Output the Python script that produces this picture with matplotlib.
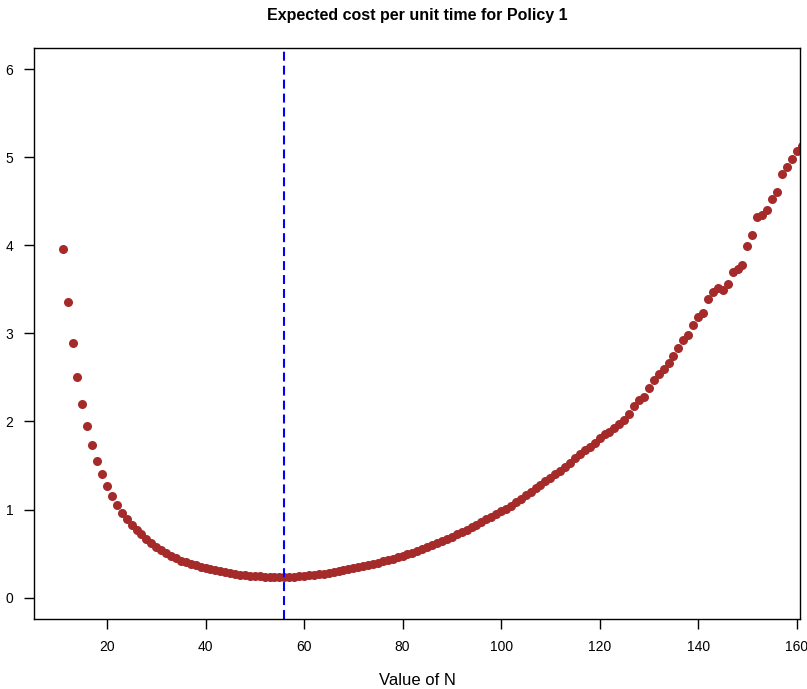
import numpy as np
import matplotlib
matplotlib.use("Agg")
import matplotlib.pyplot as plt

plt.rcParams['font.family'] = ['Liberation Sans', 'DejaVu Sans']

# valeurs de N (11 .. 161) et coût estimé
n_values = np.arange(11, 162)
cost = [
    3.955, 3.36, 2.886, 2.51, 2.20, 1.947, 1.735, 1.553, 1.40, 1.265,      # 11-20
    1.155, 1.053, 0.966, 0.894, 0.83, 0.77, 0.72, 0.67, 0.62, 0.58,        # 21-30
    0.54, 0.505, 0.475, 0.445, 0.42, 0.40, 0.38, 0.365, 0.35, 0.335,       # 31-40
    0.322, 0.31, 0.298, 0.288, 0.278, 0.27, 0.262, 0.256, 0.25, 0.246,     # 41-50
    0.242, 0.239, 0.237, 0.236, 0.235, 0.235, 0.237, 0.24, 0.243, 0.247,   # 51-60
    0.252, 0.257, 0.263, 0.27, 0.28, 0.29, 0.30, 0.31, 0.322, 0.334,       # 61-70
    0.346, 0.358, 0.37, 0.383, 0.397, 0.411, 0.426, 0.441, 0.457, 0.474,   # 71-80
    0.492, 0.511, 0.531, 0.552, 0.574, 0.597, 0.62, 0.644, 0.668, 0.693,   # 81-90
    0.72, 0.746, 0.772, 0.80, 0.83, 0.86, 0.89, 0.92, 0.95, 0.98,          # 91-100
    1.01, 1.045, 1.08, 1.12, 1.16, 1.20, 1.24, 1.28, 1.32, 1.36,           # 101-110
    1.40, 1.44, 1.48, 1.53, 1.58, 1.63, 1.68, 1.71, 1.75, 1.81,            # 111-120
    1.855, 1.88, 1.92, 1.97, 2.02, 2.09, 2.17, 2.24, 2.28, 2.38,           # 121-130
    2.47, 2.54, 2.60, 2.66, 2.74, 2.83, 2.92, 2.98, 3.10, 3.18,            # 131-140
    3.23, 3.39, 3.47, 3.51, 3.49, 3.56, 3.70, 3.73, 3.78, 3.99,            # 141-150
    4.12, 4.32, 4.34, 4.40, 4.53, 4.60, 4.81, 4.89, 4.98, 5.07,            # 151-160
    5.13,                                                                  # 161
]
n_optimal = 56

x_ticks = [20, 40, 60, 80, 100, 120, 140, 160]
y_ticks = [0, 1, 2, 3, 4, 5, 6]

fig = plt.figure(figsize=(8.07, 6.89), dpi=100)
ax = fig.add_axes([0.0425, 0.1019, 0.9493, 0.8286])

ax.plot(n_values, cost, linestyle='none', marker='o', markersize=6.5,
        color='#A52A2A', markeredgewidth=0)
ax.axvline(n_optimal, color='blue', linewidth=1.5, linestyle=(0, (4.3, 2.4)))

ax.set_xlim(5.24, 160.76)
ax.set_ylim(-0.24, 6.24)
ax.set_xticks(x_ticks)
ax.set_yticks(y_ticks)
ax.tick_params(direction='out', length=7, width=1, labelsize=10, pad=8)
for s in ax.spines.values():
    s.set_linewidth(1)
    s.set_color('black')

ax.set_xlabel('Value of N', fontsize=12, labelpad=14)
ax.set_title('Expected cost per unit time for Policy 1',
             fontsize=11.5, fontweight='bold', pad=20)

fig.savefig('out.png', dpi=100)
